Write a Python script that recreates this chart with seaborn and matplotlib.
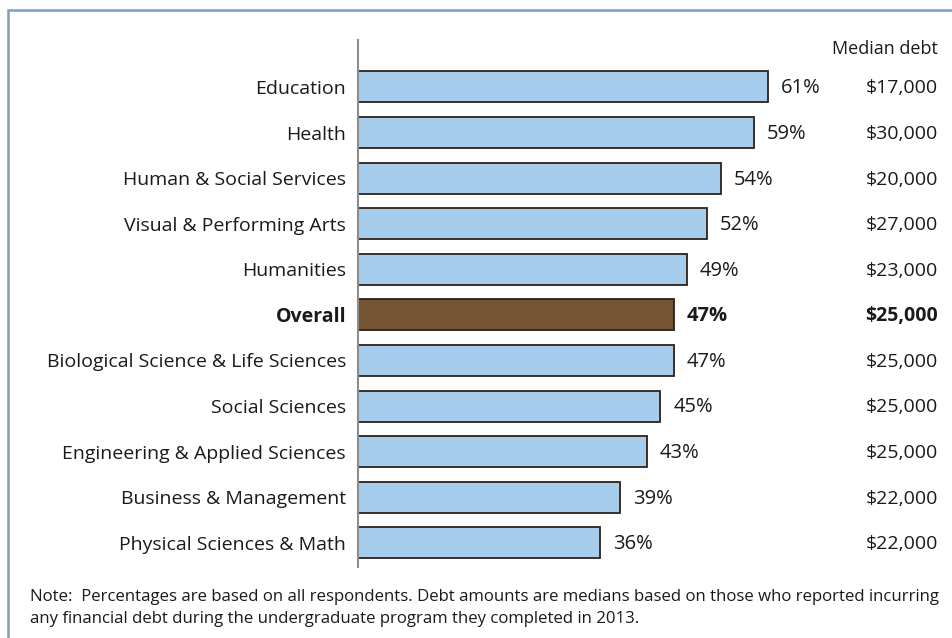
import matplotlib
matplotlib.use("Agg")
import matplotlib.pyplot as plt
import matplotlib.transforms as mtransforms
from matplotlib.patches import Rectangle
import seaborn as sns
import pandas as pd

categories = [
    "Education",
    "Health",
    "Human & Social Services",
    "Visual & Performing Arts",
    "Humanities",
    "Overall",
    "Biological Science & Life Sciences",
    "Social Sciences",
    "Engineering & Applied Sciences",
    "Business & Management",
    "Physical Sciences & Math",
]
pct_with_debt = [61, 59, 54, 52, 49, 47, 47, 45, 43, 39, 36]
median_debt = ["$17,000", "$30,000", "$20,000", "$27,000", "$23,000", "$25,000",
               "$25,000", "$25,000", "$25,000", "$22,000", "$22,000"]
highlight = "Overall"

sns.set_theme(style="white")
plt.rcParams["font.family"] = ["Open Sans", "DejaVu Sans"]

df = pd.DataFrame({"category": categories, "pct": pct_with_debt, "debt": median_debt})
palette = {c: ("#765535" if c == highlight else "#a7cdec") for c in categories}

W, H = 952, 638
fig = plt.figure(figsize=(W / 100, H / 100), dpi=100)
ax_left, ax_right, ax_top, ax_bottom = 358, 938, 40, 567
ax = fig.add_axes([ax_left / W, 1 - ax_bottom / H, (ax_right - ax_left) / W, (ax_bottom - ax_top) / H])

sns.barplot(data=df, x="pct", y="category", hue="category", palette=palette,
            legend=False, width=0.68, edgecolor="#2e2118", linewidth=1.3,
            saturation=1, ax=ax)

px_per_unit = 6.72
ax.set_xlim(0, (ax_right - ax_left) / px_per_unit)
ax.set_ylim(10.53, -1.03)

for s in ["top", "right", "bottom"]:
    ax.spines[s].set_visible(False)
ax.spines["left"].set_color("#8c8c8c")
ax.spines["left"].set_linewidth(1.5)
ax.set_xticks([])
ax.set_xlabel("")
ax.set_ylabel("")
ax.tick_params(axis="y", length=0, pad=8.6, labelsize=14, labelcolor="#1a1a1a")
for lbl in ax.get_yticklabels():
    if lbl.get_text() == highlight:
        lbl.set_fontweight("bold")

right_edge = mtransforms.blended_transform_factory(ax.transAxes, ax.transData)
for i, row in df.iterrows():
    bold = row["category"] == highlight
    weight = "bold" if bold else "normal"
    ax.text(row["pct"] + 1.9, i + 0.03, f"{row['pct']}%", ha="left", va="center",
            fontsize=14.5, fontweight=weight, color="#1a1a1a")
    ax.text(1.0, i + 0.03, row["debt"], transform=right_edge, ha="right", va="center",
            fontsize=14, fontweight=weight, color="#1a1a1a")

ax.text(1.0, -0.84, "Median debt", transform=right_edge, ha="right", va="center",
        fontsize=13, color="#1a1a1a")

fig.text(30 / W, 1 - 597 / H,
         "Note:  Percentages are based on all respondents. Debt amounts are medians based on those who reported incurring",
         ha="left", va="center", fontsize=12.1, color="#1a1a1a")
fig.text(30 / W, 1 - 619 / H,
         "any financial debt during the undergraduate program they completed in 2013.",
         ha="left", va="center", fontsize=12.1, color="#1a1a1a")

frame = Rectangle((7.5 / W, -0.05), 1.2, 1 - 9.5 / H + 0.05, transform=fig.transFigure,
                  fill=False, edgecolor="#7f9dc2", linewidth=1.8, clip_on=False)
fig.patches.append(frame)

fig.savefig("out.png", dpi=100)
